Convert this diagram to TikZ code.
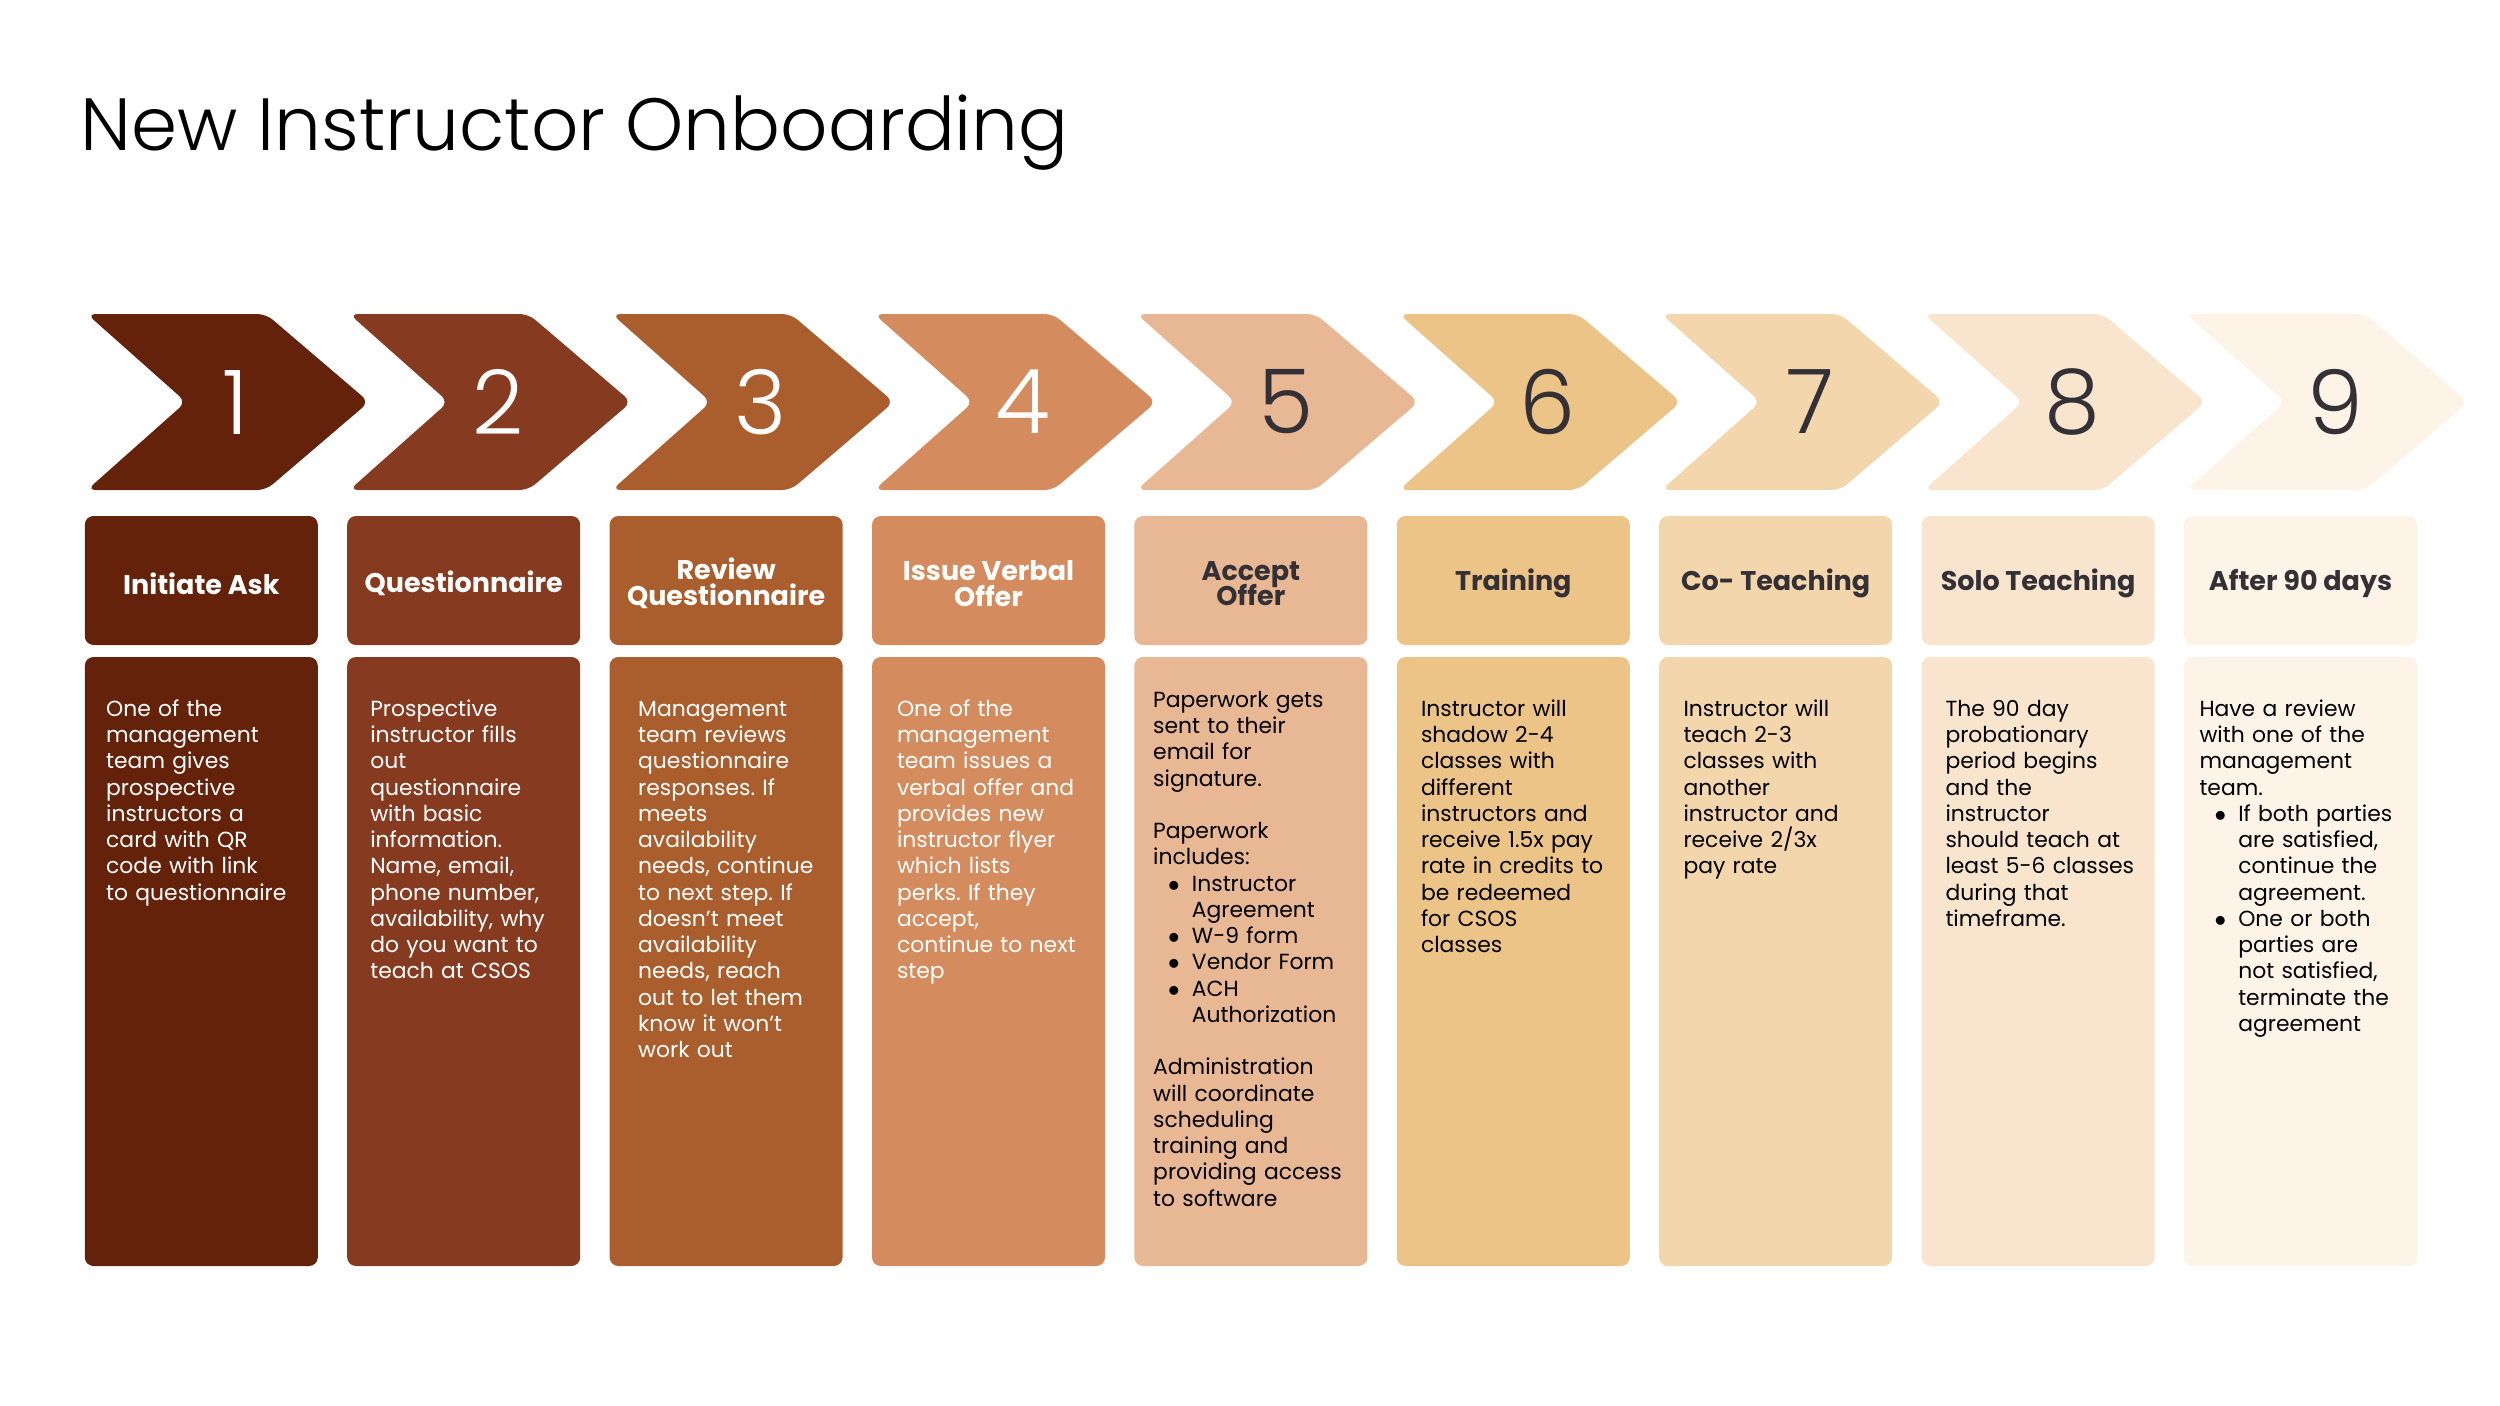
\documentclass[tikz,border=0pt]{standalone}
\usepackage{fontspec}
\setmainfont{Poppins}
\newfontfamily\lightfont{Poppins Light}
\definecolor{StepOne}{RGB}{101, 34, 10}
\definecolor{StepTwo}{RGB}{134, 58, 32}
\definecolor{StepThree}{RGB}{171, 94, 45}
\definecolor{StepFour}{RGB}{212, 139, 94}
\definecolor{StepFive}{RGB}{232, 183, 148}
\definecolor{StepSix}{RGB}{236, 196, 135}
\definecolor{StepSeven}{RGB}{244, 214, 172}
\definecolor{StepEight}{RGB}{249, 229, 205}
\definecolor{StepNine}{RGB}{253, 244, 231}
\definecolor{DarkText}{RGB}{51, 48, 54}
\usepackage{tikz}
\frenchspacing
\newcommand{\titlefont}{\lightfont\fontsize{29.6pt}{34pt}\selectfont}
\newcommand{\numfont}{\lightfont\fontsize{35.7pt}{40pt}\selectfont}
\newcommand{\headfont}{\fontsize{10.8pt}{10.2pt}\selectfont\bfseries\lineskiplimit=-10pt}
\newcommand{\bodyfont}{\fontsize{8.75pt}{10.5pt}\selectfont}
\newcommand{\bul}{\makebox[15.5pt][l]{\hspace{6pt}$\bullet$}}
\newcommand{\ind}{\hspace*{15.5pt}}

\begin{document}
\begin{tikzpicture}[x=0.4pt, y=-0.4pt,
    chevron/.style={rounded corners=3.5pt},
    panel/.style={rounded corners=3.5pt},
    headtext/.style={inner sep=0pt, align=center, font=\headfont},
    bodytext/.style={anchor=north west, inner sep=0pt, align=left, text width=95pt, font=\bodyfont, execute at begin node=\strut},
    stepnum/.style={font=\numfont, inner sep=0pt}]
    \useasboundingbox (0,0) rectangle (2500,1406);

    % Title
    \node[anchor=base west, inner sep=0pt, font=\titlefont] (title) at (80,150) {New Instructor Onboarding};

    % Step 1
    \begin{scope}[shift={(0,0)}]
        \fill[StepOne, chevron] (87,314) -- (266,314) -- (369,402) -- (266,490) -- (87,490) -- (186,402) -- cycle;
        \node[stepnum, text=white] (num1) at (236,402) {1};
        \fill[StepOne, panel] (84.8,516) rectangle ++(233,129);
        \node[headtext, text=white] (head1) at (201.3,583.5) {Initiate Ask};
        \fill[StepOne, panel] (84.8,657) rectangle ++(233,609);
        \node[bodytext, text=white] (body1) at (105.7,697.6) {One of the\\ management\\ team gives\\ prospective\\ instructors a\\ card with QR\\ code with link\\ to questionnaire};
    \end{scope}

    % Step 2
    \begin{scope}[shift={(262.4,0)}]
        \fill[StepTwo, chevron] (87,314) -- (266,314) -- (369,402) -- (266,490) -- (87,490) -- (186,402) -- cycle;
        \node[stepnum, text=white] (num2) at (236,402) {2};
        \fill[StepTwo, panel] (84.8,516) rectangle ++(233,129);
        \node[headtext, text=white] (head2) at (201.3,583.5) {Questionnaire};
        \fill[StepTwo, panel] (84.8,657) rectangle ++(233,609);
        \node[bodytext, text=white] (body2) at (107.4,697.6) {Prospective\\ instructor fills\\ out\\ questionnaire\\ with basic\\ information.\\ Name, email,\\ phone number,\\ availability, why\\ do you want to\\ teach at CSOS};
    \end{scope}

    % Step 3
    \begin{scope}[shift={(524.8,0)}]
        \fill[StepThree, chevron] (87,314) -- (266,314) -- (369,402) -- (266,490) -- (87,490) -- (186,402) -- cycle;
        \node[stepnum, text=white] (num3) at (236,402) {3};
        \fill[StepThree, panel] (84.8,516) rectangle ++(233,129);
        \node[headtext, text=white] (head3) at (201.3,583.5) {Review\\ Questionnaire};
        \fill[StepThree, panel] (84.8,657) rectangle ++(233,609);
        \node[bodytext, text=white] (body3) at (112.9,697.6) {Management\\ team reviews\\ questionnaire\\ responses. If\\ meets\\ availability\\ needs, continue\\ to next step. If\\ doesn’t meet\\ availability\\ needs, reach\\ out to let them\\ know it won’t\\ work out};
    \end{scope}

    % Step 4
    \begin{scope}[shift={(787.2,0)}]
        \fill[StepFour, chevron] (87,314) -- (266,314) -- (369,402) -- (266,490) -- (87,490) -- (186,402) -- cycle;
        \node[stepnum, text=white] (num4) at (236,402) {4};
        \fill[StepFour, panel] (84.8,516) rectangle ++(233,129);
        \node[headtext, text=white] (head4) at (201.3,583.5) {Issue Verbal\\ Offer};
        \fill[StepFour, panel] (84.8,657) rectangle ++(233,609);
        \node[bodytext, text=white] (body4) at (109.3,697.6) {One of the\\ management\\ team issues a\\ verbal offer and\\ provides new\\ instructor flyer\\ which lists\\ perks. If they\\ accept,\\ continue to next\\ step};
    \end{scope}

    % Step 5
    \begin{scope}[shift={(1049.6,0)}]
        \fill[StepFive, chevron] (87,314) -- (266,314) -- (369,402) -- (266,490) -- (87,490) -- (186,402) -- cycle;
        \node[stepnum, text=DarkText] (num5) at (236,402) {5};
        \fill[StepFive, panel] (84.8,516) rectangle ++(233,129);
        \node[headtext, text=DarkText] (head5) at (201.3,583.5) {Accept\\ Offer};
        \fill[StepFive, panel] (84.8,657) rectangle ++(233,609);
        \node[bodytext, text=black] (body5) at (103.1,688.6) {Paperwork gets\\ sent to their\\ email for\\ signature.\\[10.5pt] Paperwork\\ includes:\\ \bul Instructor\\ \ind Agreement\\ \bul W-9 form\\ \bul Vendor Form\\ \bul ACH\\ \ind Authorization\\[10.5pt] Administration\\ will coordinate\\ scheduling\\ training and\\ providing access\\ to software};
    \end{scope}

    % Step 6
    \begin{scope}[shift={(1312,0)}]
        \fill[StepSix, chevron] (87,314) -- (266,314) -- (369,402) -- (266,490) -- (87,490) -- (186,402) -- cycle;
        \node[stepnum, text=DarkText] (num6) at (236,402) {6};
        \fill[StepSix, panel] (84.8,516) rectangle ++(233,129);
        \node[headtext, text=DarkText] (head6) at (201.3,583.5) {Training};
        \fill[StepSix, panel] (84.8,657) rectangle ++(233,609);
        \node[bodytext, text=black] (body6) at (108.5,697.6) {Instructor will\\ shadow 2-4\\ classes with\\ different\\ instructors and\\ receive 1.5x pay\\ rate in credits to\\ be redeemed\\ for CSOS\\ classes};
    \end{scope}

    % Step 7
    \begin{scope}[shift={(1574.4,0)}]
        \fill[StepSeven, chevron] (87,314) -- (266,314) -- (369,402) -- (266,490) -- (87,490) -- (186,402) -- cycle;
        \node[stepnum, text=DarkText] (num7) at (236,402) {7};
        \fill[StepSeven, panel] (84.8,516) rectangle ++(233,129);
        \node[headtext, text=DarkText] (head7) at (201.3,583.5) {Co- Teaching};
        \fill[StepSeven, panel] (84.8,657) rectangle ++(233,609);
        \node[bodytext, text=black] (body7) at (108.6,697.6) {Instructor will\\ teach 2-3\\ classes with\\ another\\ instructor and\\ receive 2/3x\\ pay rate};
    \end{scope}

    % Step 8
    \begin{scope}[shift={(1836.8,0)}]
        \fill[StepEight, chevron] (87,314) -- (266,314) -- (369,402) -- (266,490) -- (87,490) -- (186,402) -- cycle;
        \node[stepnum, text=DarkText] (num8) at (236,402) {8};
        \fill[StepEight, panel] (84.8,516) rectangle ++(233,129);
        \node[headtext, text=DarkText] (head8) at (201.3,583.5) {Solo Teaching};
        \fill[StepEight, panel] (84.8,657) rectangle ++(233,609);
        \node[bodytext, text=black] (body8) at (108.2,697.6) {The 90 day\\ probationary\\ period begins\\ and the\\ instructor\\ should teach at\\ least 5-6 classes\\ during that\\ timeframe.};
    \end{scope}

    % Step 9
    \begin{scope}[shift={(2099.2,0)}]
        \fill[StepNine, chevron] (87,314) -- (266,314) -- (369,402) -- (266,490) -- (87,490) -- (186,402) -- cycle;
        \node[stepnum, text=DarkText] (num9) at (236,402) {9};
        \fill[StepNine, panel] (84.8,516) rectangle ++(233,129);
        \node[headtext, text=DarkText] (head9) at (201.3,583.5) {After 90 days};
        \fill[StepNine, panel] (84.8,657) rectangle ++(233,609);
        \node[bodytext, text=black] (body9) at (99.8,697.6) {Have a review\\ with one of the\\ management\\ team.\\ \bul If both parties\\ \ind are satisfied,\\ \ind continue the\\ \ind agreement.\\ \bul One or both\\ \ind parties are\\ \ind not satisfied,\\ \ind terminate the\\ \ind agreement};
    \end{scope}
\end{tikzpicture}
\end{document}
